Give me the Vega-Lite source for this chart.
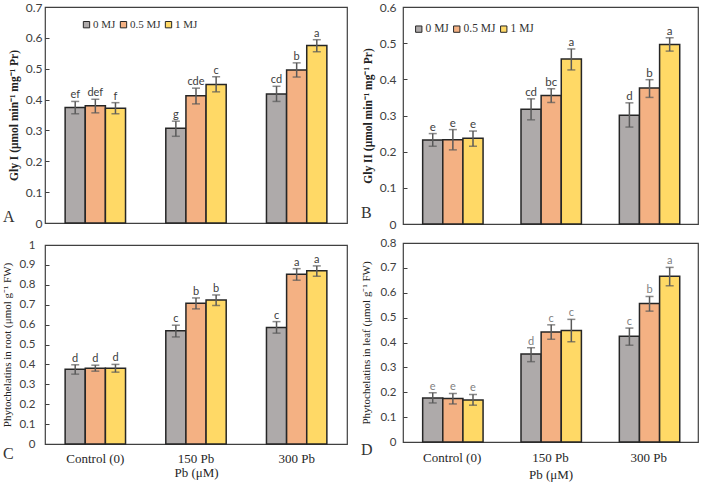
{
  "$schema": "https://vega.github.io/schema/vega-lite/v6.json",
  "padding": {"left": 1, "top": 0, "right": 0, "bottom": 0},
  "background": "white",
  "config": {
    "view": {"stroke": "#404040", "strokeWidth": 1.2},
    "axis": {"grid": false, "labelOverlap": false}
  },
  "datasets": {
    "A": [
      {"pb": "Control (0)", "mj": "0 MJ", "value": 0.374, "lo": 0.354, "hi": 0.394, "letter": "ef"},
      {"pb": "Control (0)", "mj": "0.5 MJ", "value": 0.380, "lo": 0.357, "hi": 0.401, "letter": "def"},
      {"pb": "Control (0)", "mj": "1 MJ", "value": 0.372, "lo": 0.354, "hi": 0.390, "letter": "f"},
      {"pb": "150 Pb", "mj": "0 MJ", "value": 0.307, "lo": 0.281, "hi": 0.330, "letter": "g"},
      {"pb": "150 Pb", "mj": "0.5 MJ", "value": 0.412, "lo": 0.386, "hi": 0.437, "letter": "cde"},
      {"pb": "150 Pb", "mj": "1 MJ", "value": 0.449, "lo": 0.425, "hi": 0.474, "letter": "c"},
      {"pb": "300 Pb", "mj": "0 MJ", "value": 0.418, "lo": 0.394, "hi": 0.443, "letter": "cd"},
      {"pb": "300 Pb", "mj": "0.5 MJ", "value": 0.496, "lo": 0.473, "hi": 0.519, "letter": "b"},
      {"pb": "300 Pb", "mj": "1 MJ", "value": 0.575, "lo": 0.555, "hi": 0.594, "letter": "a"}
    ],
    "B": [
      {"pb": "Control (0)", "mj": "0 MJ", "value": 0.232, "lo": 0.215, "hi": 0.250, "letter": "e"},
      {"pb": "Control (0)", "mj": "0.5 MJ", "value": 0.233, "lo": 0.205, "hi": 0.261, "letter": "e"},
      {"pb": "Control (0)", "mj": "1 MJ", "value": 0.237, "lo": 0.215, "hi": 0.257, "letter": "e"},
      {"pb": "150 Pb", "mj": "0 MJ", "value": 0.317, "lo": 0.288, "hi": 0.346, "letter": "cd"},
      {"pb": "150 Pb", "mj": "0.5 MJ", "value": 0.355, "lo": 0.336, "hi": 0.374, "letter": "bc"},
      {"pb": "150 Pb", "mj": "1 MJ", "value": 0.456, "lo": 0.426, "hi": 0.484, "letter": "a"},
      {"pb": "300 Pb", "mj": "0 MJ", "value": 0.301, "lo": 0.268, "hi": 0.335, "letter": "d"},
      {"pb": "300 Pb", "mj": "0.5 MJ", "value": 0.376, "lo": 0.350, "hi": 0.399, "letter": "b"},
      {"pb": "300 Pb", "mj": "1 MJ", "value": 0.496, "lo": 0.478, "hi": 0.515, "letter": "a"}
    ],
    "C": [
      {"pb": "Control (0)", "mj": "0 MJ", "value": 0.376, "lo": 0.351, "hi": 0.398, "letter": "d"},
      {"pb": "Control (0)", "mj": "0.5 MJ", "value": 0.381, "lo": 0.366, "hi": 0.396, "letter": "d"},
      {"pb": "Control (0)", "mj": "1 MJ", "value": 0.381, "lo": 0.361, "hi": 0.400, "letter": "d"},
      {"pb": "150 Pb", "mj": "0 MJ", "value": 0.569, "lo": 0.538, "hi": 0.597, "letter": "c"},
      {"pb": "150 Pb", "mj": "0.5 MJ", "value": 0.707, "lo": 0.679, "hi": 0.734, "letter": "b"},
      {"pb": "150 Pb", "mj": "1 MJ", "value": 0.724, "lo": 0.696, "hi": 0.749, "letter": "b"},
      {"pb": "300 Pb", "mj": "0 MJ", "value": 0.585, "lo": 0.557, "hi": 0.615, "letter": "c"},
      {"pb": "300 Pb", "mj": "0.5 MJ", "value": 0.853, "lo": 0.823, "hi": 0.881, "letter": "a"},
      {"pb": "300 Pb", "mj": "1 MJ", "value": 0.870, "lo": 0.843, "hi": 0.895, "letter": "a"}
    ],
    "D": [
      {"pb": "Control (0)", "mj": "0 MJ", "value": 0.177, "lo": 0.157, "hi": 0.198, "letter": "e"},
      {"pb": "Control (0)", "mj": "0.5 MJ", "value": 0.175, "lo": 0.153, "hi": 0.195, "letter": "e"},
      {"pb": "Control (0)", "mj": "1 MJ", "value": 0.169, "lo": 0.148, "hi": 0.191, "letter": "e"},
      {"pb": "150 Pb", "mj": "0 MJ", "value": 0.354, "lo": 0.323, "hi": 0.379, "letter": "d"},
      {"pb": "150 Pb", "mj": "0.5 MJ", "value": 0.442, "lo": 0.413, "hi": 0.471, "letter": "c"},
      {"pb": "150 Pb", "mj": "1 MJ", "value": 0.448, "lo": 0.403, "hi": 0.493, "letter": "c"},
      {"pb": "300 Pb", "mj": "0 MJ", "value": 0.425, "lo": 0.389, "hi": 0.458, "letter": "c"},
      {"pb": "300 Pb", "mj": "0.5 MJ", "value": 0.557, "lo": 0.526, "hi": 0.585, "letter": "b"},
      {"pb": "300 Pb", "mj": "1 MJ", "value": 0.666, "lo": 0.628, "hi": 0.702, "letter": "a"}
    ]
  },
  "spacing": 12,
  "resolve": {"legend": {"color": "independent"}, "scale": {"y": "independent"}},
  "hconcat": [
    {
      "spacing": 8,
      "resolve": {"legend": {"color": "independent"}, "scale": {"y": "independent"}},
      "vconcat": [
        {
          "width": 302, "height": 216,
          "data": {"name": "A"},
          "title": {"text": "A", "orient": "bottom", "anchor": "start", "frame": "group", "font": "Liberation Serif", "fontSize": 16, "fontWeight": "normal", "baseline": "alphabetic", "offset": -7, "dx": -42, "color": "#333333"},
          "encoding": {
            "x": {"field": "pb", "type": "nominal", "sort": ["Control (0)", "150 Pb", "300 Pb"], "scale": {"paddingInner": 0.4, "paddingOuter": 0.2}, "axis": null},
            "xOffset": {"field": "mj", "type": "nominal", "sort": ["0 MJ", "0.5 MJ", "1 MJ"], "scale": {"paddingInner": 0, "paddingOuter": 0}}
          },
          "layer": [
            {
              "mark": {"type": "bar", "stroke": "#262626", "strokeWidth": 1.5},
              "encoding": {
                "y": {"field": "value", "type": "quantitative", "scale": {"domain": [0, 0.7], "nice": false},
                  "axis": {"values": [0, 0.1, 0.2, 0.3, 0.4, 0.5, 0.6, 0.7], "tickCount": 20, "labelOverlap": false, "format": ".1~f", "domain": false, "tickSize": -4, "tickColor": "#404040", "labelPadding": 7, "labelFont": "Lato", "labelFontSize": 12, "labelColor": "#404040",
                    "title": "Gly I (μmol min⁻¹ mg⁻¹ Pr)", "titleFont": "Liberation Serif", "titleFontSize": 11.5, "titleFontWeight": "bold", "titleColor": "#222222", "titlePadding": 6}},
                "color": {"field": "mj", "type": "nominal", "scale": {"domain": ["0 MJ", "0.5 MJ", "1 MJ"], "range": ["#AEAAAA", "#F4B183", "#FFD966"]},
                  "legend": {"orient": "none", "legendX": 36, "legendY": 12, "direction": "horizontal", "title": null, "symbolType": "square", "symbolSize": 40, "symbolStrokeColor": "#262626", "symbolStrokeWidth": 1, "labelFont": "Liberation Serif", "labelFontSize": 11, "labelColor": "#333333", "columnPadding": 2, "labelOffset": 1}}
              }
            },
            {"mark": {"type": "rule", "color": "#595959", "strokeWidth": 1.5}, "encoding": {"y": {"field": "lo", "type": "quantitative"}, "y2": {"field": "hi"}}},
            {"mark": {"type": "tick", "color": "#595959", "thickness": 1.5, "size": 8}, "encoding": {"y": {"field": "lo", "type": "quantitative"}}},
            {"mark": {"type": "tick", "color": "#595959", "thickness": 1.5, "size": 8}, "encoding": {"y": {"field": "hi", "type": "quantitative"}}},
            {"mark": {"type": "text", "baseline": "alphabetic", "dy": -3, "font": "Lato", "fontSize": 11, "color": "#404040"}, "encoding": {"y": {"field": "hi", "type": "quantitative"}, "text": {"field": "letter"}}}
          ]
        },
        {
          "width": 302, "height": 199,
          "data": {"name": "C"},
          "title": {"text": "C", "orient": "bottom", "anchor": "start", "frame": "group", "font": "Liberation Serif", "fontSize": 16, "fontWeight": "normal", "baseline": "alphabetic", "offset": -20, "dx": -42, "color": "#333333"},
          "encoding": {
            "x": {"field": "pb", "type": "nominal", "sort": ["Control (0)", "150 Pb", "300 Pb"], "scale": {"paddingInner": 0.4, "paddingOuter": 0.2},
              "axis": {"labelAngle": 0, "ticks": false, "domain": false, "labelPadding": 8, "labelFont": "Liberation Serif", "labelFontSize": 13, "labelColor": "#262626", "title": "Pb (μM)", "titleFont": "Liberation Serif", "titleFontSize": 13, "titleFontWeight": "normal", "titleColor": "#262626", "titlePadding": 1}},
            "xOffset": {"field": "mj", "type": "nominal", "sort": ["0 MJ", "0.5 MJ", "1 MJ"], "scale": {"paddingInner": 0, "paddingOuter": 0}}
          },
          "layer": [
            {
              "mark": {"type": "bar", "stroke": "#262626", "strokeWidth": 1.5},
              "encoding": {
                "y": {"field": "value", "type": "quantitative", "scale": {"domain": [0, 1], "nice": false},
                  "axis": {"values": [0, 0.1, 0.2, 0.3, 0.4, 0.5, 0.6, 0.7, 0.8, 0.9, 1], "tickCount": 20, "labelOverlap": false, "format": ".1~f", "domain": false, "tickSize": -4, "tickColor": "#404040", "labelPadding": 14, "labelFont": "Lato", "labelFontSize": 11.5, "labelColor": "#404040",
                    "title": "Phytochelatins in root (μmol g⁻¹ FW)", "titleFont": "Liberation Serif", "titleFontSize": 11, "titleFontWeight": "normal", "titleColor": "#222222", "titlePadding": 6}},
                "color": {"field": "mj", "type": "nominal", "scale": {"domain": ["0 MJ", "0.5 MJ", "1 MJ"], "range": ["#AEAAAA", "#F4B183", "#FFD966"]}, "legend": null}
              }
            },
            {"mark": {"type": "rule", "color": "#595959", "strokeWidth": 1.5}, "encoding": {"y": {"field": "lo", "type": "quantitative"}, "y2": {"field": "hi"}}},
            {"mark": {"type": "tick", "color": "#595959", "thickness": 1.5, "size": 8}, "encoding": {"y": {"field": "lo", "type": "quantitative"}}},
            {"mark": {"type": "tick", "color": "#595959", "thickness": 1.5, "size": 8}, "encoding": {"y": {"field": "hi", "type": "quantitative"}}},
            {"mark": {"type": "text", "baseline": "alphabetic", "dy": -3, "font": "Lato", "fontSize": 11, "color": "#404040"}, "encoding": {"y": {"field": "hi", "type": "quantitative"}, "text": {"field": "letter"}}}
          ]
        }
      ]
    },
    {
      "spacing": 5,
      "resolve": {"legend": {"color": "independent"}, "scale": {"y": "independent"}},
      "vconcat": [
        {
          "width": 295, "height": 217,
          "data": {"name": "B"},
          "title": {"text": "B", "orient": "bottom", "anchor": "start", "frame": "group", "font": "Liberation Serif", "fontSize": 16, "fontWeight": "normal", "baseline": "alphabetic", "offset": -12, "dx": -42, "color": "#333333"},
          "encoding": {
            "x": {"field": "pb", "type": "nominal", "sort": ["Control (0)", "150 Pb", "300 Pb"], "scale": {"paddingInner": 0.4, "paddingOuter": 0.2}, "axis": null},
            "xOffset": {"field": "mj", "type": "nominal", "sort": ["0 MJ", "0.5 MJ", "1 MJ"], "scale": {"paddingInner": 0, "paddingOuter": 0}}
          },
          "layer": [
            {
              "mark": {"type": "bar", "stroke": "#262626", "strokeWidth": 1.5},
              "encoding": {
                "y": {"field": "value", "type": "quantitative", "scale": {"domain": [0, 0.6], "nice": false},
                  "axis": {"values": [0, 0.1, 0.2, 0.3, 0.4, 0.5, 0.6], "tickCount": 20, "labelOverlap": false, "format": ".1~f", "domain": false, "tickSize": -4, "tickColor": "#404040", "labelPadding": 11, "labelFont": "Lato", "labelFontSize": 12, "labelColor": "#404040",
                    "title": "Gly II (μmol min⁻¹ mg⁻¹ Pr)", "titleFont": "Liberation Serif", "titleFontSize": 11.5, "titleFontWeight": "bold", "titleColor": "#222222", "titlePadding": 6}},
                "color": {"field": "mj", "type": "nominal", "scale": {"domain": ["0 MJ", "0.5 MJ", "1 MJ"], "range": ["#AEAAAA", "#F4B183", "#FFD966"]},
                  "legend": {"orient": "none", "legendX": 10, "legendY": 16, "direction": "horizontal", "title": null, "symbolType": "square", "symbolSize": 40, "symbolStrokeColor": "#262626", "symbolStrokeWidth": 1, "labelFont": "Liberation Serif", "labelFontSize": 11.5, "labelColor": "#333333", "columnPadding": 2, "labelOffset": 1}}
              }
            },
            {"mark": {"type": "rule", "color": "#595959", "strokeWidth": 1.5}, "encoding": {"y": {"field": "lo", "type": "quantitative"}, "y2": {"field": "hi"}}},
            {"mark": {"type": "tick", "color": "#595959", "thickness": 1.5, "size": 8}, "encoding": {"y": {"field": "lo", "type": "quantitative"}}},
            {"mark": {"type": "tick", "color": "#595959", "thickness": 1.5, "size": 8}, "encoding": {"y": {"field": "hi", "type": "quantitative"}}},
            {"mark": {"type": "text", "baseline": "alphabetic", "dy": -3, "font": "Lato", "fontSize": 11.5, "color": "#404040"}, "encoding": {"y": {"field": "hi", "type": "quantitative"}, "text": {"field": "letter"}}}
          ]
        },
        {
          "width": 295, "height": 199,
          "data": {"name": "D"},
          "title": {"text": "D", "orient": "bottom", "anchor": "start", "frame": "group", "font": "Liberation Serif", "fontSize": 16, "fontWeight": "normal", "baseline": "alphabetic", "offset": -26, "dx": -42, "color": "#333333"},
          "encoding": {
            "x": {"field": "pb", "type": "nominal", "sort": ["Control (0)", "150 Pb", "300 Pb"], "scale": {"paddingInner": 0.4, "paddingOuter": 0.2},
              "axis": {"labelAngle": 0, "ticks": false, "domain": false, "labelPadding": 9, "labelFont": "Liberation Serif", "labelFontSize": 13, "labelColor": "#262626", "title": "Pb (μM)", "titleFont": "Liberation Serif", "titleFontSize": 13, "titleFontWeight": "normal", "titleColor": "#262626", "titlePadding": 4}},
            "xOffset": {"field": "mj", "type": "nominal", "sort": ["0 MJ", "0.5 MJ", "1 MJ"], "scale": {"paddingInner": 0, "paddingOuter": 0}}
          },
          "layer": [
            {
              "mark": {"type": "bar", "stroke": "#262626", "strokeWidth": 1.5},
              "encoding": {
                "y": {"field": "value", "type": "quantitative", "scale": {"domain": [0, 0.8], "nice": false},
                  "axis": {"values": [0, 0.1, 0.2, 0.3, 0.4, 0.5, 0.6, 0.7, 0.8], "tickCount": 20, "labelOverlap": false, "format": ".1~f", "domain": false, "tickSize": -4, "tickColor": "#404040", "labelPadding": 11, "labelFont": "Lato", "labelFontSize": 11.5, "labelColor": "#404040",
                    "title": "Phytochelatins in leaf (μmol g⁻¹ FW)", "titleFont": "Liberation Serif", "titleFontSize": 11, "titleFontWeight": "normal", "titleColor": "#222222", "titlePadding": 8}},
                "color": {"field": "mj", "type": "nominal", "scale": {"domain": ["0 MJ", "0.5 MJ", "1 MJ"], "range": ["#AEAAAA", "#F4B183", "#FFD966"]}, "legend": null}
              }
            },
            {"mark": {"type": "rule", "color": "#595959", "strokeWidth": 1.5}, "encoding": {"y": {"field": "lo", "type": "quantitative"}, "y2": {"field": "hi"}}},
            {"mark": {"type": "tick", "color": "#595959", "thickness": 1.5, "size": 8}, "encoding": {"y": {"field": "lo", "type": "quantitative"}}},
            {"mark": {"type": "tick", "color": "#595959", "thickness": 1.5, "size": 8}, "encoding": {"y": {"field": "hi", "type": "quantitative"}}},
            {"mark": {"type": "text", "baseline": "alphabetic", "dy": -3, "font": "Lato", "fontSize": 11, "color": "#7f7f7f"}, "encoding": {"y": {"field": "hi", "type": "quantitative"}, "text": {"field": "letter"}}}
          ]
        }
      ]
    }
  ]
}
